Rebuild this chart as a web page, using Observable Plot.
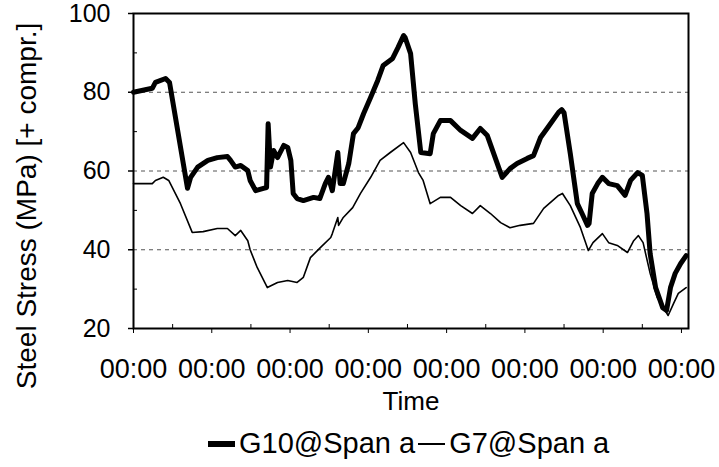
<!DOCTYPE html>
<html>
<head>
<meta charset="utf-8">
<script src="https://cdn.jsdelivr.net/npm/d3@7"></script>
<script src="https://cdn.jsdelivr.net/npm/@observablehq/plot@0.6"></script>
<style>
  html, body { margin: 0; padding: 0; background: #fff; }
  body { width: 719px; height: 467px; position: relative; overflow: hidden; font-family: "Liberation Sans", Arial, sans-serif; }
  #legend { position: absolute; left: 208px; top: 427px; display: flex; align-items: center; font-size: 29px; color: #000; white-space: nowrap; }
  #legend .sw { display: inline-block; width: 27px; background: #000; margin-right: 4px; }
  #legend .item { display: flex; align-items: center; margin-right: 3px; }
</style>
</head>
<body>
<div id="chart"></div>
<div id="legend"></div>
<script>
// Time positions (in tick intervals) and values
const seriesNames = ["G10@Span a", "G7@Span a"];
const g10Time = [0.00,0.24,0.28,0.41,0.46,0.69,0.73,0.82,0.95,1.07,1.20,1.24,1.30,1.37,1.46,1.49,1.56,1.66,1.70,1.72,1.75,1.79,1.84,1.92,1.97,2.01,2.04,2.09,2.17,2.30,2.38,2.45,2.49,2.54,2.61,2.64,2.68,2.75,2.81,2.87,2.94,3.03,3.12,3.19,3.31,3.38,3.45,3.47,3.54,3.60,3.67,3.79,3.83,3.92,4.05,4.18,4.33,4.43,4.52,4.62,4.71,4.81,4.90,5.03,5.11,5.20,5.29,5.43,5.47,5.50,5.58,5.67,5.73,5.80,5.82,5.86,5.93,5.99,6.07,6.18,6.28,6.35,6.44,6.50,6.56,6.60,6.67,6.76,6.81,6.86,6.92,6.99,7.06];
const g10Value = [80,81,82.5,83.5,82.5,55.6,58.4,61,62.7,63.4,63.7,62.7,61,61.4,60.1,57.6,55,55.6,55.8,72,61,65.2,63.4,66.5,66,62.7,54.3,53,52.5,53.3,53,56.8,58.4,55,64.7,56.8,56.8,61.9,69.5,71,74.6,78.7,83,86.8,88.6,91.4,94.4,93.9,89.8,77,64.7,64.4,69.5,72.8,72.8,70.3,68.3,70.8,69,63.4,58.4,60.6,61.9,63.2,63.9,68.5,71,74.9,75.6,74.8,64.4,51.7,49.2,46.2,46.7,54.3,56.8,58.4,56.8,56.3,53.8,57.6,59.6,58.9,49.2,39,30.4,25.3,24.6,30.4,34,36.5,38.5];
const g7Time = [0.00,0.24,0.28,0.38,0.45,0.60,0.75,0.89,1.07,1.20,1.30,1.37,1.46,1.49,1.58,1.71,1.84,1.97,2.09,2.17,2.26,2.39,2.52,2.54,2.61,2.62,2.68,2.80,2.90,3.03,3.15,3.28,3.45,3.54,3.64,3.70,3.79,3.92,4.05,4.18,4.33,4.43,4.56,4.69,4.81,4.94,5.11,5.24,5.43,5.48,5.58,5.71,5.81,5.87,5.99,6.07,6.18,6.31,6.39,6.45,6.51,6.60,6.69,6.83,6.90,6.96,7.06];
const g7Value = [56.8,56.8,57.6,58.4,57.6,51.7,44.4,44.6,45.4,45.4,43.6,44.9,42.3,40,35.5,30.4,31.7,32.2,31.7,33,38,40.6,43.1,44.1,48.2,46.2,48.2,50.7,54.3,58.4,62.7,64.7,67.2,64.7,59.6,57.6,51.7,53.3,53.3,51.2,49.2,51.2,49.2,46.9,45.6,46.2,46.7,50.5,53.8,54.3,51.2,45.6,39.8,41.8,44.1,41.8,41.1,39.3,42.3,43.6,41.8,34,27.9,23.3,26.4,28.9,30.4];
const xMajorTicks = [0,1,2,3,4,5,6,7];
const xMinorTicks = [0.5,1.5,2.5,3.5,4.5,5.5,6.5];
const xTickLabel = "00:00";
const yMajorTicks = [20,40,60,80,100];
const yMinorTicks = [30,50,70,90];
const yGrid = [40,60,80];
const yLabel = "Steel Stress (MPa) [+ compr.]";
const xLabel = "Time";

const g10 = g10Time.map((t, i) => ({t, v: g10Value[i]}));
const g7 = g7Time.map((t, i) => ({t, v: g7Value[i]}));

const chart = Plot.plot({
  width: 719,
  height: 420,
  marginLeft: 133,
  marginRight: 31,
  marginTop: 13,
  marginBottom: 92,
  style: {fontFamily: "'Liberation Sans', Arial, sans-serif", color: "#000", background: "#fff", overflow: "visible"},
  x: {domain: [0, 7.09]},
  y: {domain: [20, 100]},
  marks: [
    Plot.ruleY(yGrid, {stroke: "#555", strokeWidth: 1, strokeDasharray: "4,4"}),
    Plot.axisY({ticks: yMajorTicks, tickSize: 5, tickPadding: 18, fontSize: 25, label: null, strokeWidth: 1.5}),
    Plot.axisY({ticks: yMinorTicks, tickSize: 4, tickFormat: () => "", dx: 4, label: null, strokeWidth: 1}),
    Plot.axisX({ticks: xMajorTicks, tickSize: 5, tickPadding: 25, fontSize: 27, tickFormat: () => xTickLabel, label: null, strokeWidth: 1}),
    Plot.axisX({ticks: xMinorTicks, tickSize: 4, tickFormat: () => "", dy: -4, label: null, strokeWidth: 1}),
    Plot.text([xLabel], {frameAnchor: "bottom", dy: 81, fontSize: 26, text: d => d}),
    Plot.text([yLabel], {frameAnchor: "left", textAnchor: "middle", rotate: -90, dx: -106, dy: 35, fontSize: 28, text: d => d}),
    Plot.line(g7, {x: "t", y: "v", stroke: "#000", strokeWidth: 1.6}),
    Plot.line(g10, {x: "t", y: "v", stroke: "#000", strokeWidth: 5, strokeLinejoin: "round"}),
    Plot.frame({stroke: "#000", strokeWidth: 2})
  ]
});
document.getElementById("chart").appendChild(chart);

const legend = document.getElementById("legend");
const swatchHeights = [6, 2];
seriesNames.forEach((name, i) => {
  const item = document.createElement("span");
  item.className = "item";
  const sw = document.createElement("span");
  sw.className = "sw";
  sw.style.height = swatchHeights[i] + "px";
  item.appendChild(sw);
  item.appendChild(document.createTextNode(name));
  legend.appendChild(item);
});
</script>
</body>
</html>
